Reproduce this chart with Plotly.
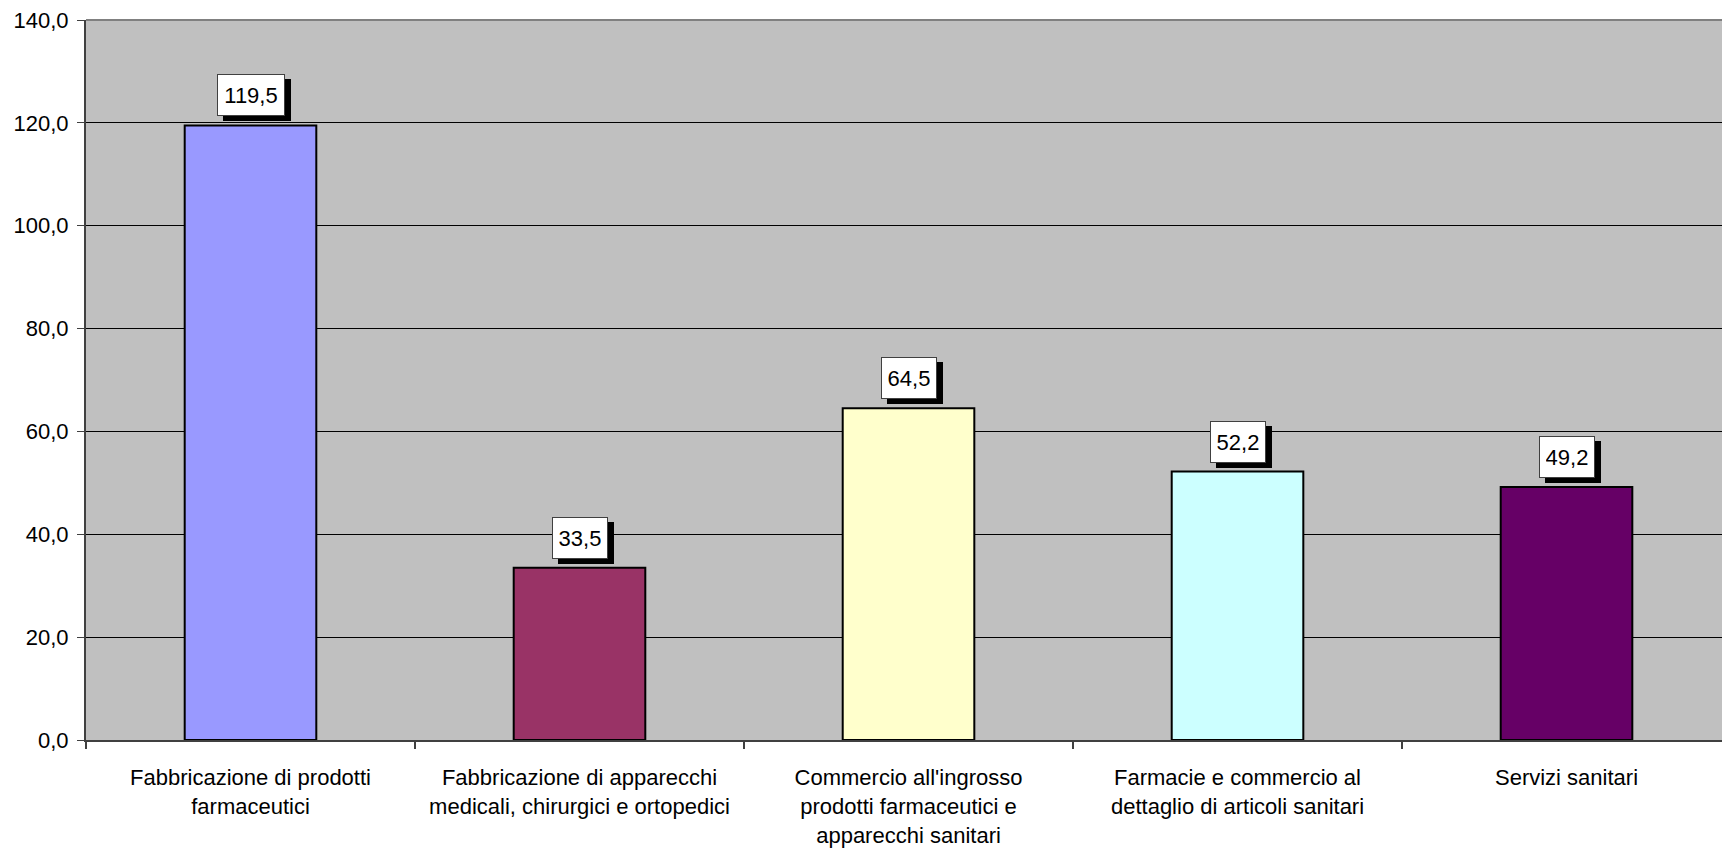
import plotly.graph_objects as go

categories = [
    "Fabbricazione di prodotti<br>farmaceutici",
    "Fabbricazione di apparecchi<br>medicali, chirurgici e ortopedici",
    "Commercio all'ingrosso<br>prodotti farmaceutici e<br>apparecchi sanitari",
    "Farmacie e commercio al<br>dettaglio di articoli sanitari",
    "Servizi sanitari",
]
values = [119.5, 33.5, 64.5, 52.2, 49.2]
bar_colors = ["#9999FF", "#993366", "#FFFFCC", "#CCFFFF", "#660066"]
y_ticks = [0, 20, 40, 60, 80, 100, 120, 140]

FONT = "Liberation Sans, Arial, sans-serif"

fig = go.Figure()
fig.add_trace(go.Bar(
    x=categories,
    y=values,
    width=0.4,
    marker=dict(color=bar_colors, line=dict(color="black", width=2)),
    hoverinfo="skip",
))

for cat, val in zip(categories, values):
    txt = f"{val:.1f}".replace(".", ",")
    w = 12 * len(txt) - 6
    # drop shadow box (no text)
    fig.add_annotation(
        x=cat, y=val, yanchor="bottom", xanchor="center",
        text=" ", showarrow=False,
        font=dict(family=FONT, size=22, color="black"),
        bgcolor="black", bordercolor="black", borderwidth=1, borderpad=6,
        width=w, height=28,
        xshift=6, yshift=4,
    )
    fig.add_annotation(
        x=cat, y=val, yanchor="bottom", xanchor="center",
        text=txt, showarrow=False,
        font=dict(family=FONT, size=22, color="black"),
        bgcolor="white", bordercolor="#404040", borderwidth=1, borderpad=6,
        width=w, height=28,
        xshift=0, yshift=9,
    )

# top border of plot area
fig.add_shape(type="line", xref="paper", yref="paper", x0=0, x1=1, y0=1, y1=1,
              line=dict(color="#808080", width=2), layer="above")

fig.update_layout(
    width=1722, height=849,
    margin=dict(l=86, r=0, t=20, b=109),
    paper_bgcolor="white",
    plot_bgcolor="#C0C0C0",
    separators=",.",
    showlegend=False,
    font=dict(family=FONT, size=22, color="black"),
)
fig.update_xaxes(
    type="category",
    range=[-0.5, 4.4726],
    tickson="boundaries",
    ticks="outside", ticklen=7, tickwidth=2, tickcolor="#404040",
    showline=True, linecolor="#404040", linewidth=2,
    showgrid=False,
    tickfont=dict(family=FONT, size=22, color="black"),
    ticklabelstandoff=17,
)
fig.update_yaxes(
    range=[0, 140],
    tickvals=y_ticks,
    tickformat=".1f",
    ticks="outside", ticklen=7, tickwidth=1, tickcolor="#404040",
    showline=True, linecolor="#404040", linewidth=2,
    showgrid=True, gridcolor="black", gridwidth=1,
    zeroline=False,
    tickfont=dict(family=FONT, size=22, color="black"),
    ticklabelstandoff=4,
)

fig.write_html("out.html")
